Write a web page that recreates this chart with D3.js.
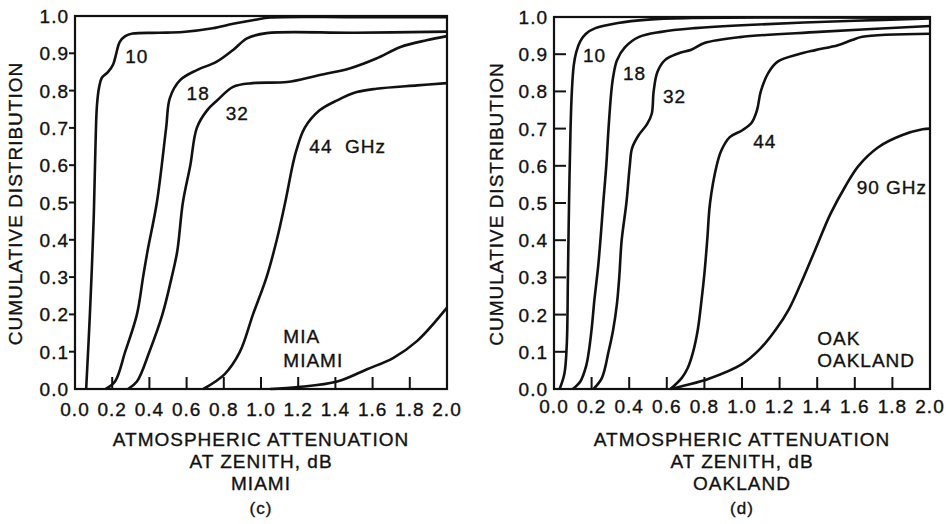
<!DOCTYPE html>
<html>
<head>
<meta charset="utf-8">
<script src="https://cdn.jsdelivr.net/npm/d3@7"></script>
<style>
  body { margin: 0; background: #fff; }
  svg text {
    font-family: "Liberation Sans", Arial, sans-serif;
    fill: #111; stroke: #111; stroke-width: 0.35px;
    letter-spacing: 1px;
  }
</style>
</head>
<body>
<svg id="chart" width="950" height="524"></svg>
<script>
// tick values, shared by both panels
var xTicks = [0.0, 0.2, 0.4, 0.6, 0.8, 1.0, 1.2, 1.4, 1.6, 1.8, 2.0];
var yTicks = [0.0, 0.1, 0.2, 0.3, 0.4, 0.5, 0.6, 0.7, 0.8, 0.9, 1.0];

// Miami, (attenuation dB, cumulative distribution)
var mia10 = [[0.06,0],[0.08,0.2],[0.1,0.45],[0.11,0.65],[0.118,0.76],[0.13,0.81],[0.145,0.835],[0.178,0.85],[0.205,0.87],[0.222,0.9],[0.24,0.93],[0.27,0.946],[0.31,0.953],[0.45,0.955],[0.58,0.957],[0.74,0.967],[0.85,0.979],[0.97,0.99],[1.05,0.996],[1.5,0.997],[2.0,0.997]];
var mia18 = [[0.165,0],[0.215,0.02],[0.27,0.1],[0.333,0.2],[0.366,0.3],[0.39,0.37],[0.44,0.5],[0.49,0.7],[0.51,0.78],[0.565,0.828],[0.655,0.855],[0.76,0.877],[0.85,0.909],[0.925,0.94],[1.03,0.954],[1.5,0.955],[2.0,0.958]];
var mia32 = [[0.285,0],[0.333,0.02],[0.4,0.1],[0.47,0.2],[0.52,0.3],[0.55,0.37],[0.58,0.5],[0.62,0.6],[0.655,0.7],[0.71,0.747],[0.765,0.774],[0.85,0.81],[0.955,0.82],[1.14,0.823],[1.3,0.84],[1.48,0.86],[1.62,0.886],[1.75,0.917],[1.89,0.935],[2.0,0.946]];
var mia44 = [[0.69,0],[0.805,0.04],[0.887,0.1],[0.957,0.2],[1.03,0.3],[1.085,0.4],[1.13,0.5],[1.17,0.6],[1.19,0.64],[1.235,0.7],[1.315,0.747],[1.41,0.774],[1.515,0.796],[1.62,0.805],[1.84,0.814],[2.0,0.82]];
var mia90 = [[1.05,0],[1.2,0.005],[1.41,0.02],[1.57,0.053],[1.71,0.083],[1.84,0.129],[2.0,0.218]];

// Oakland
var oak10 = [[0.03,0],[0.055,0.04],[0.068,0.12],[0.074,0.3],[0.08,0.5],[0.088,0.7],[0.095,0.8],[0.105,0.87],[0.118,0.905],[0.14,0.935],[0.17,0.955],[0.22,0.97],[0.34,0.984],[0.5,0.993],[0.7,0.997],[2.0,0.998]];
var oak18 = [[0.1,0],[0.14,0.02],[0.17,0.06],[0.185,0.1],[0.2,0.16],[0.215,0.24],[0.235,0.33],[0.25,0.42],[0.262,0.5],[0.278,0.6],[0.29,0.7],[0.305,0.8],[0.315,0.84],[0.335,0.884],[0.378,0.919],[0.45,0.946],[0.57,0.96],[0.75,0.97],[1.0,0.978],[1.6,0.99],[2.0,0.996]];
var oak32 = [[0.21,0],[0.255,0.03],[0.29,0.1],[0.315,0.16],[0.335,0.23],[0.347,0.3],[0.36,0.4],[0.385,0.5],[0.403,0.6],[0.415,0.647],[0.45,0.682],[0.495,0.712],[0.52,0.74],[0.53,0.8],[0.55,0.852],[0.59,0.884],[0.66,0.902],[0.73,0.912],[0.8,0.93],[0.99,0.946],[1.41,0.96],[2.0,0.976]];
var oak44 = [[0.62,0],[0.68,0.03],[0.71,0.055],[0.74,0.1],[0.765,0.16],[0.785,0.24],[0.8,0.31],[0.815,0.4],[0.83,0.5],[0.865,0.6],[0.89,0.641],[0.935,0.677],[1.0,0.695],[1.05,0.715],[1.08,0.75],[1.1,0.8],[1.14,0.85],[1.19,0.88],[1.3,0.9],[1.39,0.911],[1.51,0.924],[1.585,0.938],[1.64,0.947],[2.0,0.955]];
var oak90 = [[0.62,0],[0.7,0.01],[0.82,0.027],[1.0,0.067],[1.1,0.11],[1.18,0.16],[1.25,0.215],[1.31,0.28],[1.39,0.375],[1.47,0.47],[1.55,0.545],[1.62,0.6],[1.725,0.65],[1.85,0.682],[1.96,0.698],[2.0,0.7]];

var svg = d3.select('#chart');
var fmt = d3.format('.1f');

function drawPanel(p) {
    var x = d3.scaleLinear().domain([0, 2]).range([p.left, p.right]);
    var y = d3.scaleLinear().domain([0, 1]).range([p.bottom, p.top]);
    var g = svg.append('g');

    var line = d3.line()
        .x(function(d) { return x(d[0]); })
        .y(function(d) { return y(d[1]); })
        .curve(d3.curveCatmullRom.alpha(0.5));

    g.selectAll('path.curve')
        .data(p.series)
        .join('path')
        .classed('curve', true)
        .attr('d', line)
        .attr('fill', 'none')
        .attr('stroke', '#111')
        .attr('stroke-width', 2.6)
        .attr('stroke-linejoin', 'round');

    // frame
    g.append('rect')
        .attr('x', p.left).attr('y', p.top)
        .attr('width', p.right - p.left).attr('height', p.bottom - p.top)
        .attr('fill', 'none').attr('stroke', '#111').attr('stroke-width', 2.2);

    // y ticks: outward on (c), inward on (d)
    g.selectAll('line.ytick')
        .data(yTicks.slice(1, -1))
        .join('line')
        .classed('ytick', true)
        .attr('x1', p.left).attr('x2', p.left + p.yTickLen)
        .attr('y1', y).attr('y2', y)
        .attr('stroke', '#111').attr('stroke-width', 2);

    g.selectAll('line.xtick')
        .data(xTicks.slice(1, -1))
        .join('line')
        .classed('xtick', true)
        .attr('x1', x).attr('x2', x)
        .attr('y1', p.bottom).attr('y2', p.bottom - 12)
        .attr('stroke', '#111').attr('stroke-width', 2);

    g.selectAll('text.ylab')
        .data(yTicks)
        .join('text')
        .classed('ylab', true)
        .attr('x', p.left - 6)
        .attr('y', function(d) { return y(d) + 7; })
        .attr('text-anchor', 'end')
        .attr('font-size', 19)
        .text(fmt);

    g.selectAll('text.xlab')
        .data(xTicks)
        .join('text')
        .classed('xlab', true)
        .attr('x', x)
        .attr('y', p.xLabY)
        .attr('text-anchor', 'middle')
        .attr('font-size', 19)
        .text(fmt);

    g.append('text')
        .attr('transform', 'translate(' + p.yTitleX + ',' + ((p.top + p.bottom) / 2 + 1) + ')rotate(-90)')
        .attr('text-anchor', 'middle')
        .attr('dy', '0.35em')
        .attr('font-size', 19)
        .text('CUMULATIVE DISTRIBUTION');

    var cx = (p.left + p.right) / 2;
    var titles = ['ATMOSPHERIC ATTENUATION', 'AT ZENITH, dB', p.city, p.tag];
    g.selectAll('text.title')
        .data(titles)
        .join('text')
        .classed('title', true)
        .attr('x', cx)
        .attr('y', function(d, i) { return [446, 468, 490, 514][i]; })
        .attr('text-anchor', 'middle')
        .attr('font-size', function(d, i) { return i === 3 ? 17 : 19; })
        .text(function(d) { return d; });

    // curve and site labels, placed in data units
    g.selectAll('text.note')
        .data(p.notes)
        .join('text')
        .classed('note', true)
        .attr('x', function(d) { return x(d[1]); })
        .attr('y', function(d) { return y(d[2]); })
        .attr('font-size', 19)
        .attr('xml:space', 'preserve')
        .text(function(d) { return d[0]; });
}

drawPanel({
    left: 75, right: 447, top: 16, bottom: 389,
    yTickLen: -6, xLabY: 416, yTitleX: 15,
    city: 'MIAMI', tag: '(c)',
    series: [mia10, mia18, mia32, mia44, mia90],
    notes: [['10', 0.27, 0.875], ['18', 0.6, 0.775], ['32', 0.81, 0.722],
            ['44  GHz', 1.26, 0.633], ['MIA', 1.12, 0.123], ['MIAMI', 1.12, 0.059]]
});

drawPanel({
    left: 554, right: 930, top: 17, bottom: 389,
    yTickLen: 12, xLabY: 413, yTitleX: 496,
    city: 'OAKLAND', tag: '(d)',
    series: [oak10, oak18, oak32, oak44, oak90],
    notes: [['10', 0.154, 0.88], ['18', 0.367, 0.83], ['32', 0.58, 0.77],
            ['44', 1.06, 0.649], ['90 GHz', 1.61, 0.525], ['OAK', 1.4, 0.118], ['OAKLAND', 1.4, 0.059]]
});
</script>
</body>
</html>
